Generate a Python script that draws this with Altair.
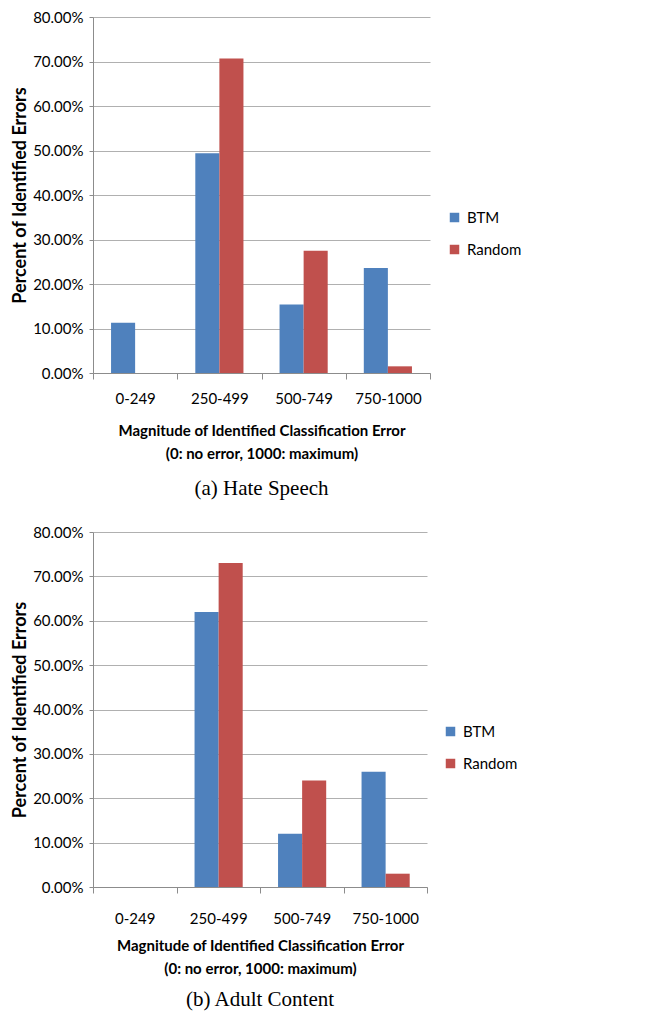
import altair as alt
import pandas as pd

CATS = ["0-249", "250-499", "500-749", "750-1000"]
SERIES = ["BTM", "Random"]
COLORS = ["#4F81BD", "#C0504D"]
Y_TICKS = [0.0, 0.1, 0.2, 0.3, 0.4, 0.5, 0.6, 0.7, 0.8]

hate_btm = [11.3, 49.4, 15.4, 23.6]
hate_random = [0.0, 70.7, 27.5, 1.5]
adult_btm = [0.0, 62.0, 12.0, 26.0]
adult_random = [0.0, 73.0, 24.0, 3.0]

X_TITLE = ["Magnitude of Identified Classification Error", "(0: no error, 1000: maximum)"]
Y_TITLE = "Percent of Identified Errors"
FONT = "Lato"


def panel(btm, rnd, caption, w, h, label_pad, title_pad, cap_offset, lx, ly):
    df = pd.DataFrame({
        "range": CATS + CATS,
        "series": ["BTM"] * len(CATS) + ["Random"] * len(CATS),
        "value": [v / 100 for v in btm + rnd],
    })
    return alt.Chart(df).mark_bar().encode(
        x=alt.X("range:N", sort=CATS,
                scale=alt.Scale(paddingInner=0, paddingOuter=0),
                axis=alt.Axis(title=X_TITLE, labelAngle=0, tickBand="extent",
                              tickSize=6, labelPadding=label_pad, titlePadding=title_pad,
                              labelFontSize=15, titleFontSize=15, titleFontWeight="bold",
                              titleLineHeight=23, grid=False)),
        xOffset=alt.XOffset("series:N", sort=SERIES,
                            scale=alt.Scale(paddingOuter=0.75, paddingInner=0)),
        y=alt.Y("value:Q", scale=alt.Scale(domain=[0, 0.8], nice=False),
                axis=alt.Axis(title=Y_TITLE, format=".2%", values=Y_TICKS,
                              tickSize=4, labelPadding=6, titlePadding=3,
                              labelFontSize=15, titleFontSize=18, titleFontWeight="bold",
                              grid=True)),
        color=alt.Color("series:N", sort=SERIES,
                        scale=alt.Scale(domain=SERIES, range=COLORS),
                        legend=alt.Legend(title=None, orient="none", legendX=lx, legendY=ly)),
    ).properties(
        width=w, height=h,
        title=alt.TitleParams(caption, orient="bottom", anchor="middle", offset=cap_offset),
    )


top = panel(hate_btm, hate_random, "(a) Hate Speech", 337, 356, 12, 17, 17, 354, 193)
bottom = panel(adult_btm, adult_random, "(b) Adult Content", 334, 355, 18, 12, 13, 350, 192)

chart = alt.vconcat(top, bottom, spacing=26).resolve_scale(
    color="independent"
).properties(
    padding={"left": 3, "top": 2, "right": 5, "bottom": 5}
).configure_axis(
    labelFont=FONT, titleFont=FONT, labelColor="#000000", titleColor="#000000",
    gridColor="#B0B0B0", domainColor="#8C8C8C", tickColor="#8C8C8C",
).configure_view(
    stroke=None
).configure_legend(
    labelFont=FONT, labelFontSize=15, labelColor="#000000", symbolType="square",
    symbolSize=90, symbolStrokeWidth=0, rowPadding=16, padding=0, labelOffset=5,
).configure_title(
    font="Liberation Serif", fontSize=21, fontWeight="normal", color="#000000",
)

chart.save("out.html", embed_options={"renderer": "svg", "actions": False})
